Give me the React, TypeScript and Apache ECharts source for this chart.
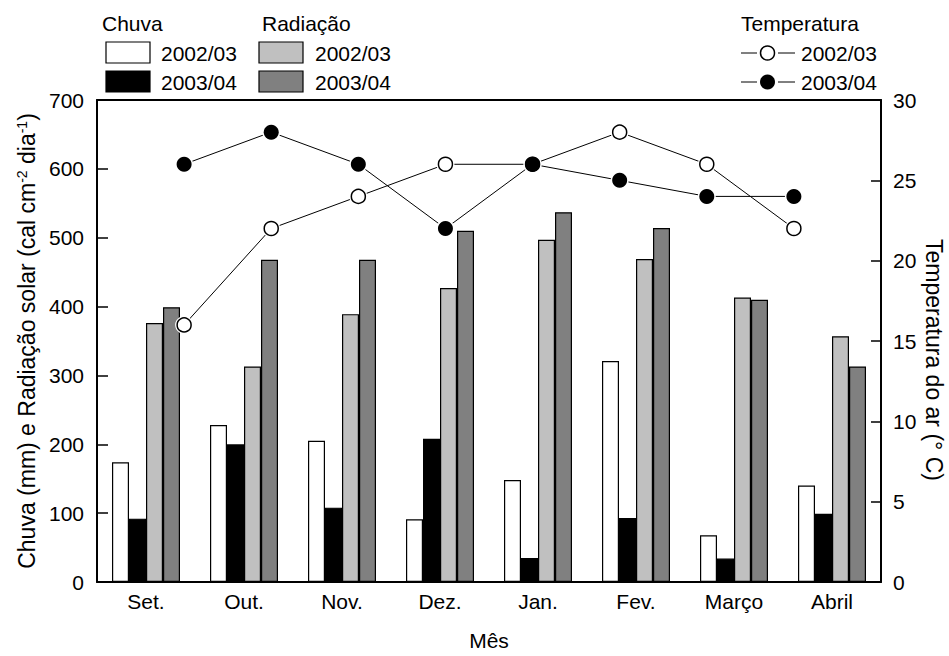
import React, { useEffect, useRef } from "react";
import * as echarts from "echarts";

const months = ["Set.", "Out.", "Nov.", "Dez.", "Jan.", "Fev.", "Março", "Abril"];
const chuva0203 = [174, 228, 205, 91, 148, 321, 68, 140];
const chuva0304 = [92, 200, 108, 208, 35, 93, 34, 99];
const rad0203 = [376, 313, 389, 427, 497, 469, 413, 357];
const rad0304 = [399, 468, 468, 510, 537, 514, 410, 313];
const temp0203 = [16, 22, 24, 26, 26, 28, 26, 22];
const temp0304 = [26, 28, 26, 22, 26, 25, 24, 24];
const seasonLabels = ["2002/03", "2003/04"];

const FONT = "'Liberation Sans', Arial, Helvetica, sans-serif";
const FS = 21;
const FS_TITLE = 23;

export default function App() {
  const ref = useRef<HTMLDivElement>(null);
  useEffect(() => {
    if (!ref.current) return;
    const chart = echarts.init(ref.current, null, { renderer: "svg" });
    const pts = (arr: number[]) => arr.map((v, i) => [i, v]);
    const txt = (text: string, x: number, y: number) => ({
      type: "text",
      x,
      y,
      style: { text, fontSize: FS, fontFamily: FONT, fill: "#000", align: "left", verticalAlign: "middle" },
    });
    const box = (x: number, y: number, fill: string) => ({
      type: "rect",
      shape: { x, y, width: 44, height: 21 },
      style: { fill, stroke: "#000", lineWidth: 1.2 },
    });
    const legLine = (y: number, filled: boolean) => [
      { type: "line", shape: { x1: 741, y1: y, x2: 757, y2: y }, style: { stroke: "#000", lineWidth: 1 } },
      { type: "line", shape: { x1: 778, y1: y, x2: 795, y2: y }, style: { stroke: "#000", lineWidth: 1 } },
      {
        type: "circle",
        shape: { cx: 767.5, cy: y, r: filled ? 7.5 : 7 },
        style: { fill: filled ? "#000" : "#fff", stroke: "#000", lineWidth: filled ? 0 : 1.5 },
      },
    ];
    const option: any = {
      animation: false,
      textStyle: { fontFamily: FONT },
      grid: { left: 97, right: 68, top: 100, bottom: 66, containLabel: false },
      xAxis: [
        {
          type: "category",
          data: months,
          position: "bottom",
          boundaryGap: true,
          axisLine: { show: true, onZero: false, lineStyle: { color: "#000", width: 2 } },
          axisTick: { show: false },
          axisLabel: { color: "#000", fontSize: FS, fontFamily: FONT, margin: 9 },
          name: "Mês",
          nameLocation: "middle",
          nameGap: 48,
          nameTextStyle: { color: "#000", fontSize: FS, fontFamily: FONT },
          splitLine: { show: false },
        },
        {
          type: "value",
          min: -1,
          max: 8,
          position: "top",
          axisLine: { show: true, onZero: false, lineStyle: { color: "#000", width: 2 } },
          axisTick: { show: false },
          axisLabel: { show: false },
          splitLine: { show: false },
        },
      ],
      yAxis: [
        {
          type: "value",
          min: 0,
          max: 700,
          interval: 100,
          position: "left",
          axisLine: { show: true, onZero: false, lineStyle: { color: "#000", width: 2 } },
          axisTick: { show: true, inside: true, length: 11, lineStyle: { color: "#000", width: 1.5 } },
          axisLabel: { color: "#000", fontSize: FS, fontFamily: FONT, margin: 13 },
          splitLine: { show: false },
          name: "Chuva (mm) e Radiação solar (cal cm{sup|-2} dia{sup|-1})",
          nameLocation: "middle",
          nameRotate: 90,
          nameGap: 56,
          nameTextStyle: {
            color: "#000",
            fontSize: FS_TITLE,
            fontFamily: FONT,
            rich: { sup: { fontSize: 14, fontFamily: FONT, verticalAlign: "top", color: "#000" } },
          },
        },
        {
          type: "value",
          min: 0,
          max: 30,
          interval: 5,
          position: "right",
          axisLine: { show: true, onZero: false, lineStyle: { color: "#000", width: 2 } },
          axisTick: { show: true, inside: true, length: 10, lineStyle: { color: "#000", width: 1.5 } },
          axisLabel: { color: "#000", fontSize: FS, fontFamily: FONT, margin: 12 },
          splitLine: { show: false },
        },
      ],
      series: [
        {
          name: "Chuva 2002/03",
          type: "bar",
          data: chuva0203,
          barWidth: 17,
          barGap: "0%",
          itemStyle: { color: "#ffffff", borderColor: "#000", borderWidth: 1.2 },
        },
        {
          name: "Chuva 2003/04",
          type: "bar",
          data: chuva0304,
          barWidth: 17,
          barGap: "0%",
          itemStyle: { color: "#000000", borderColor: "#000", borderWidth: 1.2 },
        },
        {
          name: "Radiação 2002/03",
          type: "bar",
          data: rad0203,
          barWidth: 17,
          barGap: "0%",
          itemStyle: { color: "#c0c0c0", borderColor: "#000", borderWidth: 1.2 },
        },
        {
          name: "Radiação 2003/04",
          type: "bar",
          data: rad0304,
          barWidth: 17,
          barGap: "0%",
          itemStyle: { color: "#808080", borderColor: "#000", borderWidth: 1.2 },
        },
        {
          name: "Temp line 2002/03",
          type: "line",
          xAxisIndex: 1,
          yAxisIndex: 1,
          data: pts(temp0203),
          showSymbol: false,
          lineStyle: { color: "#000", width: 1 },
          z: 3,
        },
        {
          name: "Temp line 2003/04",
          type: "line",
          xAxisIndex: 1,
          yAxisIndex: 1,
          data: pts(temp0304),
          showSymbol: false,
          lineStyle: { color: "#000", width: 1 },
          z: 3,
        },
        {
          name: "mask",
          type: "scatter",
          xAxisIndex: 1,
          yAxisIndex: 1,
          data: pts(temp0203).concat(pts(temp0304)),
          symbol: "circle",
          symbolSize: 18,
          itemStyle: { color: "#fff", opacity: 1 },
          z: 4,
          silent: true,
        },
        {
          name: "Temperatura " + seasonLabels[0],
          type: "scatter",
          xAxisIndex: 1,
          yAxisIndex: 1,
          data: pts(temp0203),
          symbol: "circle",
          symbolSize: 14,
          itemStyle: { color: "#fff", borderColor: "#000", borderWidth: 1.5, opacity: 1 },
          z: 5,
        },
        {
          name: "Temperatura " + seasonLabels[1],
          type: "scatter",
          xAxisIndex: 1,
          yAxisIndex: 1,
          data: pts(temp0304),
          symbol: "circle",
          symbolSize: 15,
          itemStyle: { color: "#000", opacity: 1 },
          z: 6,
        },
      ],
      graphic: [
        txt("Chuva", 102, 23),
        box(106, 42, "#ffffff"),
        txt(seasonLabels[0], 161, 53),
        box(106, 71, "#000000"),
        txt(seasonLabels[1], 161, 82),
        txt("Radiação", 262, 23),
        box(259, 42, "#c0c0c0"),
        txt(seasonLabels[0], 315, 53),
        box(259, 71, "#808080"),
        txt(seasonLabels[1], 315, 82),
        txt("Temperatura", 741, 23),
        ...legLine(53, false),
        txt(seasonLabels[0], 801, 53),
        ...legLine(82, true),
        txt(seasonLabels[1], 801, 82),
        {
          type: "text",
          x: 934,
          y: 360,
          rotation: -Math.PI / 2,
          style: {
            text: "Temperatura do ar (° C)",
            fontSize: FS_TITLE,
            fontFamily: FONT,
            fill: "#000",
            align: "center",
            verticalAlign: "middle",
          },
        },
      ],
    };
    chart.setOption(option);
    return () => chart.dispose();
  }, []);
  return (
    <div
      ref={ref}
      style={{ position: "fixed", left: 0, top: 0, width: 949, height: 656, background: "#fff" }}
    />
  );
}
